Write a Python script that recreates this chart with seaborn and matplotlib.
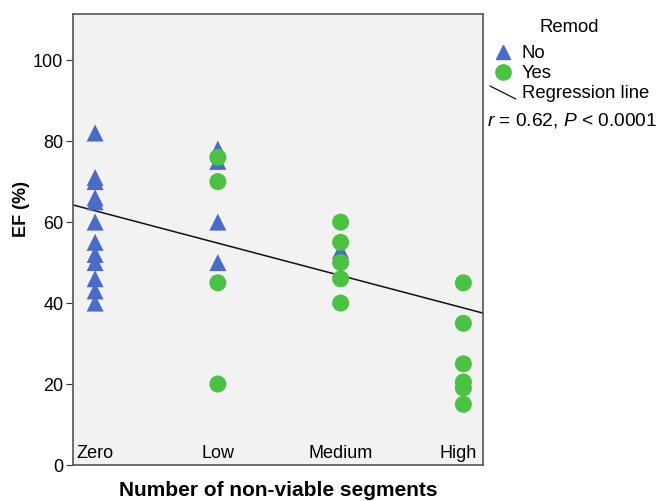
import pandas as pd
import seaborn as sns
import matplotlib.pyplot as plt
from matplotlib.lines import Line2D
from matplotlib.legend_handler import HandlerBase

# categories on the x axis
categories = ["Zero", "Low", "Medium", "High"]

# EF (%) values, per category and remodeling group
zero_no = [82, 71, 70, 66, 65, 60, 55, 52, 50, 46, 43, 40]
low_no = [78, 75, 60, 50]
low_yes = [76, 70, 45, 20]
medium_no = [53]
medium_yes = [60, 55, 50, 46, 40]
high_yes = [45, 35, 25, 20.5, 19, 15]

# regression line as drawn in the figure
reg_intercept = 62.8
reg_slope = -8.0
stats_text = r"$r$ = 0.62, $P$ < 0.0001"

rows = []
for cat, vals, grp in [("Zero", zero_no, "No"), ("Low", low_no, "No"),
                       ("Low", low_yes, "Yes"), ("Medium", medium_no, "No"),
                       ("Medium", medium_yes, "Yes"), ("High", high_yes, "Yes")]:
    for v in vals:
        rows.append({"x": categories.index(cat), "ef": v, "remod": grp})
df = pd.DataFrame(rows)

sns.set_style("ticks")
plt.rcParams["font.family"] = ["Liberation Sans", "DejaVu Sans"]
plt.rcParams["mathtext.fontset"] = "custom"
plt.rcParams["mathtext.it"] = "Liberation Sans:italic"
plt.rcParams["mathtext.rm"] = "Liberation Sans"
plt.rcParams["text.color"] = "black"
plt.rcParams["ytick.labelcolor"] = "black"

blue = "#4a6cc8"
green = "#4cc244"

fig = plt.figure(figsize=(6.57, 5.01), dpi=100)
ax = fig.add_axes([73 / 657, 1 - 465 / 501, 410 / 657, 451 / 501])
ax.set_facecolor("#f2f2f2")

sns.scatterplot(data=df, x="x", y="ef", hue="remod", style="remod",
                hue_order=["No", "Yes"], style_order=["No", "Yes"],
                palette={"No": blue, "Yes": green},
                markers={"No": "^", "Yes": "o"}, s=150, linewidth=0,
                legend=False, ax=ax, zorder=3)
ax.axline((0, reg_intercept), slope=reg_slope, color="#111111", lw=1.1, zorder=2)

ax.set_xlim(-0.18, 3.16)
ax.set_ylim(0, 111.4)
ax.set_xticks([])
ax.set_yticks([0, 20, 40, 60, 80, 100])
ax.tick_params(axis="y", labelsize=13, length=5, color="#333333", pad=2)
# category names sit inside the plot; the last one is pushed left of the frame
for i, c in enumerate(categories):
    if i == len(categories) - 1:
        ax.text(3.11, 2.8, c, ha="right", va="center", fontsize=13)
    else:
        ax.text(i, 2.8, c, ha="center", va="center", fontsize=13)
for sp in ax.spines.values():
    sp.set_color("#555555")
    sp.set_linewidth(1.2)

ax.set_xlabel("")
ax.set_ylabel("")
fig.text(278 / 657, 1 - 496 / 501, "Number of non-viable segments", fontsize=15,
         fontweight="bold", ha="center", va="baseline")
fig.text(22 / 657, 1 - 209 / 501, "EF (%)", fontsize=13, fontweight="bold",
         rotation=90, ha="center", va="center")


class DiagHandler(HandlerBase):
    def create_artists(self, legend, orig, xd, yd, w, h, fs, trans):
        ln = Line2D([-xd, -xd + w], [-yd + h * 0.95, -yd + h * 0.05 - 1],
                    color="#111111", lw=0.9)
        ln.set_transform(trans)
        return [ln]


handles = [Line2D([], [], marker="^", ls="", color=blue, markersize=10),
           Line2D([], [], marker="o", ls="", color=green, markersize=11),
           Line2D([], [], color="#111111")]
leg = fig.legend(handles, ["No", "Yes", "Regression line"],
                 loc="upper left", bbox_to_anchor=(490 / 657, 1 - 45 / 501),
                 frameon=False, fontsize=13.3,
                 handler_map={handles[2]: DiagHandler()},
                 handlelength=1.4, handletextpad=0.33, labelspacing=0.17,
                 borderaxespad=0, borderpad=0)
fig.text(569 / 657, 1 - 28 / 501, "Remod", fontsize=13.3, ha="center", va="center")
fig.text(487 / 657, 1 - 121 / 501, stats_text, fontsize=13.8, va="center")

fig.savefig("out.png", dpi=100)
